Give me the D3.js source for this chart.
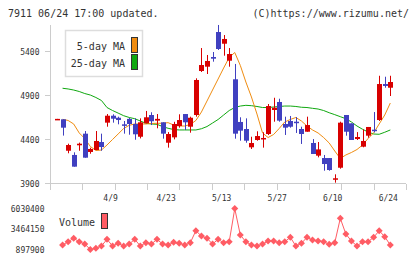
<!DOCTYPE html>
<html>
<head>
<meta charset="utf-8">
<script src="https://cdn.jsdelivr.net/npm/d3@7"></script>
<style>
  body { margin: 0; background: #fff; }
  svg { display: block; }
  text { font-family: 'DejaVu Sans Mono', monospace; fill: #333; }
</style>
</head>
<body>
<svg id="chart" width="420" height="259"></svg>
<script>
// trading days shown on the chart (61 sessions)
const dates = [
  '3/26', '3/27', '3/28', '3/29', '4/1', '4/2', '4/3', '4/4', '4/5', '4/8',
  '4/9', '4/10', '4/11', '4/12', '4/15', '4/16', '4/17', '4/18', '4/19', '4/22',
  '4/23', '4/24', '4/25', '4/26', '5/1', '5/2', '5/7', '5/8', '5/9', '5/10',
  '5/13', '5/14', '5/15', '5/16', '5/17', '5/20', '5/21', '5/22', '5/23', '5/24',
  '5/27', '5/28', '5/29', '5/30', '5/31', '6/3', '6/4', '6/5', '6/6', '6/7',
  '6/10', '6/11', '6/12', '6/13', '6/14', '6/17', '6/18', '6/19', '6/20', '6/21',
  '6/24'
];
const dateTicks = [ '4/9', '4/23', '5/13', '5/27', '6/10', '6/24' ];

const open = [
  4632, 4635, 4278, 4230, 4340, 4472, 4264, 4286, 4377, 4597,
  4676, 4653, 4578, 4640, 4582, 4437, 4590, 4684, 4620, 4601,
  4369, 4430, 4559, 4695, 4551, 4684, 5184, 5233, 5343, 5627,
  5494, 5301, 5090, 4605, 4525, 4317, 4400, 4408, 4468, 4741,
  4832, 4582, 4616, 4608, 4525, 4494, 4366, 4222, 4195, 4195,
  3953, 4085, 4684, 4589, 4411, 4324, 4449, 4517, 4627, 5036,
  4994
];
const high = [
  4640, 4635, 4358, 4260, 4370, 4502, 4312, 4502, 4472, 4695,
  4692, 4665, 4616, 4650, 4646, 4646, 4730, 4715, 4695, 4601,
  4490, 4607, 4692, 4695, 4665, 5101, 5445, 5366, 5400, 5707,
  5593, 5445, 5264, 4658, 4646, 4437, 4499, 4488, 4809, 4880,
  4869, 4665, 4673, 4660, 4551, 4665, 4411, 4377, 4230, 4195,
  4010, 4608, 4684, 4589, 4490, 4520, 4548, 4718, 5130, 5119,
  5130
];
const low = [
  4632, 4450, 4249, 4097, 4278, 4199, 4244, 4286, 4278, 4551,
  4597, 4578, 4472, 4460, 4403, 4418, 4590, 4570, 4533, 4415,
  4313, 4407, 4540, 4514, 4483, 4665, 5173, 5150, 5290, 5423,
  5358, 5233, 4415, 4392, 4369, 4298, 4392, 4313, 4457, 4608,
  4608, 4457, 4540, 4480, 4355, 4494, 4241, 4203, 4051, 4051,
  3915, 4074, 4449, 4400, 4400, 4317, 4426, 4487, 4616, 4994,
  4900
];
const close = [
  4640, 4540, 4343, 4097, 4358, 4199, 4298, 4389, 4320, 4676,
  4642, 4627, 4567, 4582, 4465, 4601, 4658, 4613, 4640, 4472,
  4468, 4582, 4627, 4601, 4653, 5082, 5252, 5298, 5324, 5434,
  5548, 5377, 4472, 4506, 4392, 4366, 4445, 4423, 4786, 4767,
  4620, 4540, 4551, 4598, 4468, 4570, 4241, 4293, 4127, 4059,
  3965, 4597, 4494, 4400, 4434, 4389, 4548, 4502, 5036, 5014,
  5059
];

// moving averages as drawn (first session has no value)
const ma5 = [
  null, 4635, 4622, 4582, 4480, 4417, 4326, 4281, 4286, 4343,
  4406, 4468, 4531, 4567, 4582, 4582, 4582, 4588, 4590, 4590,
  4597, 4570, 4559, 4559, 4576, 4622, 4718, 4843, 4968, 5093,
  5218, 5338, 5394, 5247, 5059, 4889, 4695, 4480, 4428, 4463,
  4531, 4605, 4633, 4656, 4616, 4559, 4514, 4480, 4428, 4366,
  4275, 4190, 4230, 4258, 4292, 4343, 4417, 4480, 4582, 4684,
  4820
];
const ma25 = [
  null, 4988, 4980, 4968, 4951, 4928, 4911, 4883, 4849, 4769,
  4735, 4706, 4676, 4656, 4642, 4616, 4590, 4582, 4578, 4553,
  4533, 4519, 4514, 4514, 4514, 4514, 4528, 4553, 4593, 4633,
  4684, 4735, 4769, 4786, 4794, 4790, 4781, 4769, 4769, 4775,
  4781, 4786, 4786, 4781, 4772, 4769, 4760, 4752, 4735, 4710,
  4688, 4665, 4642, 4605, 4559, 4522, 4491, 4468, 4465, 4488,
  4514
];

const volume = [
  null, 1461000, 1874000, 2300000, 1874000, 1586000, 897900, 1048000, 1336000, 2175000,
  1336000, 1674000, 1336000, 1586000, 2175000, 1336000, 1749000, 1586000, 2175000, 1586000,
  1461000, 1799000, 1674000, 1461000, 1749000, 3251000, 2588000, 2300000, 1586000, 2175000,
  1749000, 1874000, 6030400, 2713000, 1874000, 1461000, 1336000, 1586000, 1962000, 1962000,
  1749000, 1874000, 2425000, 1336000, 1674000, 2425000, 2087000, 1962000, 1874000, 1549000,
  1749000, 4804000, 2838000, 1962000, 1336000, 1874000, 1874000, 2425000, 3251000, 2500000,
  1461000
];

const priceTicks = [ 3900, 4400, 4900, 5400 ];
const volumeTicks = [ 897900, 3464150, 6030400 ];

const upColor = '#d80000';
const downColor = '#4040c0';

const svg = d3.select( '#chart' );

const x = d3.scaleLinear().domain( [ 0, dates.length - 1 ] ).range( [ 57, 390.3 ] );
const y = d3.scaleLinear().domain( [ 3900, 5400 ] ).range( [ 184, 52 ] );
const yv = d3.scaleLinear().domain( [ 897900, 6030400 ] ).range( [ 249.5, 208.6 ] );

// header
svg.append( 'text' ).attr( 'x', 8 ).attr( 'y', 17 ).style( 'font-size', '10px' )
  .text( '7911 06/24 17:00 updated.' );
svg.append( 'text' ).attr( 'x', 409 ).attr( 'y', 17 ).attr( 'text-anchor', 'end' )
  .style( 'font-size', '10px' ).text( '(C)https://www.rizumu.net/' );

// axes
const axisColor = '#cccccc';
svg.append( 'line' ).attr( 'x1', 50.5 ).attr( 'x2', 50.5 ).attr( 'y1', 25 ).attr( 'y2', 190 )
  .attr( 'stroke', axisColor );
svg.append( 'line' ).attr( 'x1', 45 ).attr( 'x2', 406 ).attr( 'y1', 183.5 ).attr( 'y2', 183.5 )
  .attr( 'stroke', axisColor );

svg.selectAll( '.ptick' )
  .data( priceTicks )
  .enter().append( 'line' )
  .attr( 'x1', 45 ).attr( 'x2', 50 )
  .attr( 'y1', function( d ) { return Math.round( y( d ) ) - 0.5 } )
  .attr( 'y2', function( d ) { return Math.round( y( d ) ) - 0.5 } )
  .attr( 'stroke', axisColor );

svg.selectAll( '.plabel' )
  .data( priceTicks )
  .enter().append( 'text' )
  .attr( 'x', 39.5 )
  .attr( 'y', function( d ) { return y( d ) + 3 } )
  .attr( 'text-anchor', 'end' )
  .style( 'font-size', '8px' )
  .text( function( d ) { return d } );

// bottom ticks, evenly split
const splits = d3.range( 12 );
svg.selectAll( '.xtick' )
  .data( splits )
  .enter().append( 'line' )
  .attr( 'x1', function( d ) { return Math.round( 50 + d * 32.36 ) + 0.5 } )
  .attr( 'x2', function( d ) { return Math.round( 50 + d * 32.36 ) + 0.5 } )
  .attr( 'y1', 184 ).attr( 'y2', 190 )
  .attr( 'stroke', axisColor );

svg.selectAll( '.xlabel' )
  .data( dateTicks )
  .enter().append( 'text' )
  .attr( 'x', function( d ) { return x( dates.indexOf( d ) ) - 2 } )
  .attr( 'y', 200.5 )
  .attr( 'text-anchor', 'middle' )
  .style( 'font-size', '8px' )
  .text( function( d ) { return d } );

// moving averages
const maLine = function( values ) {
  return d3.line()
    .defined( function( d ) { return d !== null } )
    .x( function( d, i ) { return x( i ) } )
    .y( function( d ) { return y( d ) } )( values );
};
svg.append( 'path' ).attr( 'd', maLine( ma25 ) )
  .attr( 'fill', 'none' ).attr( 'stroke', '#10a810' ).attr( 'stroke-width', 1 );
svg.append( 'path' ).attr( 'd', maLine( ma5 ) )
  .attr( 'fill', 'none' ).attr( 'stroke', '#f08c10' ).attr( 'stroke-width', 1 );

// candles
const candles = svg.selectAll( '.candle' )
  .data( dates )
  .enter().append( 'g' );

candles.append( 'line' )
  .attr( 'x1', function( d, i ) { return Math.round( x( i ) ) + 0.5 } )
  .attr( 'x2', function( d, i ) { return Math.round( x( i ) ) + 0.5 } )
  .attr( 'y1', function( d, i ) { return y( high[ i ] ) } )
  .attr( 'y2', function( d, i ) { return y( low[ i ] ) } )
  .attr( 'stroke', function( d, i ) { return close[ i ] >= open[ i ] ? upColor : downColor } );

candles.append( 'rect' )
  .attr( 'x', function( d, i ) { return Math.round( x( i ) ) - 2 } )
  .attr( 'width', 5 )
  .attr( 'y', function( d, i ) { return y( Math.max( open[ i ], close[ i ] ) ) } )
  .attr( 'height', function( d, i ) {
    return Math.max( 1.5, Math.abs( y( open[ i ] ) - y( close[ i ] ) ) );
  } )
  .attr( 'fill', function( d, i ) { return close[ i ] >= open[ i ] ? upColor : downColor } );

// legend
svg.append( 'rect' ).attr( 'x', 65.5 ).attr( 'y', 30.5 ).attr( 'width', 77 ).attr( 'height', 46 )
  .attr( 'fill', '#fff' ).attr( 'stroke', '#dddddd' ).attr( 'stroke-width', 1.5 );
const legendItems = [ [ '5-day MA', '#f08c10' ], [ '25-day MA', '#10a810' ] ];
legendItems.forEach( function( item, i ) {
  svg.append( 'text' ).attr( 'x', 125 ).attr( 'y', 50 + i * 17 ).attr( 'text-anchor', 'end' )
    .style( 'font-size', '10px' ).text( item[ 0 ] );
  svg.append( 'rect' ).attr( 'x', 131.5 ).attr( 'y', 37.5 + i * 17 ).attr( 'width', 6 ).attr( 'height', 15 )
    .attr( 'fill', item[ 1 ] ).attr( 'stroke', '#333' );
} );

// volume
const volColor = '#ff5c64';
svg.append( 'text' ).attr( 'x', 59 ).attr( 'y', 226 ).style( 'font-size', '10px' ).text( 'Volume' );
svg.append( 'rect' ).attr( 'x', 101.5 ).attr( 'y', 213.5 ).attr( 'width', 6 ).attr( 'height', 15 )
  .attr( 'fill', volColor ).attr( 'stroke', '#333' );

svg.selectAll( '.vlabel' )
  .data( volumeTicks )
  .enter().append( 'text' )
  .attr( 'x', 44.5 )
  .attr( 'y', function( d ) { return yv( d ) + 3 } )
  .attr( 'text-anchor', 'end' )
  .style( 'font-size', '8px' )
  .text( function( d ) { return d } );

svg.append( 'path' )
  .attr( 'd', d3.line()
    .defined( function( d ) { return d !== null } )
    .x( function( d, i ) { return x( i ) } )
    .y( function( d ) { return yv( d ) } )( volume ) )
  .attr( 'fill', 'none' ).attr( 'stroke', volColor ).attr( 'stroke-width', 1 );

svg.selectAll( '.vpoint' )
  .data( volume.map( function( v, i ) { return [ i, v ] } ).filter( function( d ) { return d[ 1 ] !== null } ) )
  .enter().append( 'path' )
  .attr( 'd', function( d ) {
    const cx = x( d[ 0 ] ), cy = yv( d[ 1 ] ), r = 3.5;
    return 'M' + cx + ',' + ( cy - r ) + 'L' + ( cx + r ) + ',' + cy + 'L' + cx + ',' + ( cy + r ) + 'L' + ( cx - r ) + ',' + cy + 'Z';
  } )
  .attr( 'fill', volColor );
</script>
</body>
</html>
